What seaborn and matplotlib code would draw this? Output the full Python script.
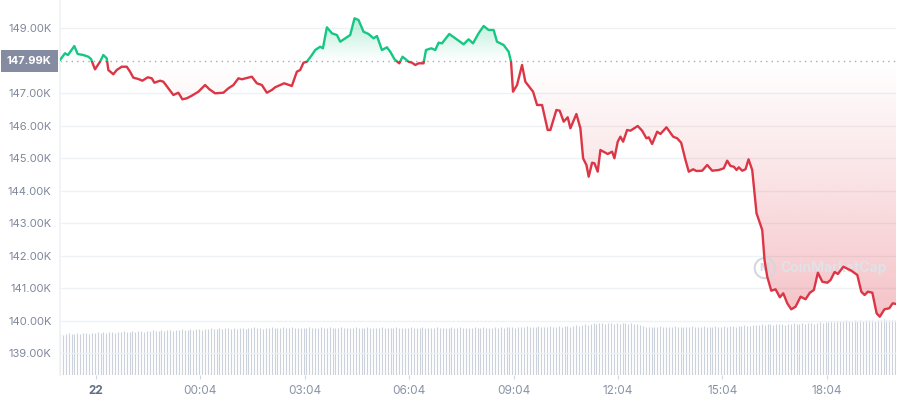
import matplotlib

matplotlib.use("Agg")
import matplotlib.pyplot as plt
import numpy as np
import pandas as pd
import seaborn as sns
from matplotlib.colors import to_rgb
from matplotlib.patches import Rectangle
from matplotlib.path import Path
from matplotlib.transforms import blended_transform_factory

# hours after the "22" tick, price in thousands of USD
hours = [
    -1.035, -0.892, -0.805, -0.624, -0.526, -0.365, -0.221, -0.144, -0.029, 0.115,
    0.210, 0.308, 0.354, 0.498, 0.595, 0.739, 0.883, 0.978, 1.073, 1.217,
    1.332, 1.487, 1.602, 1.677, 1.841, 1.936, 2.079, 2.223, 2.367, 2.482,
    2.609, 2.752, 2.942, 3.135, 3.259, 3.422, 3.661, 3.805, 3.949, 4.093,
    4.190, 4.478, 4.622, 4.766, 4.910, 5.053, 5.148, 5.292, 5.407, 5.628,
    5.772, 5.867, 5.962, 6.060, 6.204, 6.299, 6.442, 6.520, 6.635, 6.779,
    6.923, 7.018, 7.161, 7.305, 7.429, 7.544, 7.688, 7.832, 7.975, 8.073,
    8.217, 8.361, 8.456, 8.579, 8.714, 8.809, 8.982, 9.080, 9.175, 9.269,
    9.413, 9.482, 9.635, 9.750, 9.845, 9.942, 10.152, 10.325, 10.564, 10.707,
    10.834, 10.995, 11.139, 11.283, 11.427, 11.524, 11.714, 11.858, 11.927, 11.984,
    12.100, 12.243, 12.338, 12.482, 12.560, 12.675, 12.819, 12.980, 13.057, 13.230,
    13.325, 13.440, 13.555, 13.633, 13.805, 13.920, 13.998, 14.093, 14.159, 14.257,
    14.323, 14.418, 14.495, 14.639, 14.705, 14.832, 14.898, 14.993, 15.070, 15.148,
    15.263, 15.358, 15.568, 15.694, 15.818, 15.884, 15.982, 16.126, 16.221, 16.393,
    16.586, 16.701, 16.816, 16.940, 17.035, 17.161, 17.256, 17.420, 17.564, 17.708,
    17.897, 18.041, 18.139, 18.234, 18.329, 18.407, 18.473, 18.571, 18.666, 18.752,
    18.858, 18.982, 19.146, 19.212, 19.290, 19.405, 19.529, 19.652, 19.750, 19.865,
    19.980, 20.104, 20.248, 20.391, 20.515, 20.630, 20.745, 20.872, 21.016, 21.110,
    21.225, 21.320, 21.476, 21.571, 21.706, 21.878, 21.993, 22.088, 22.183, 22.310,
    22.433, 22.524, 22.659, 22.797, 22.895, 22.990,
]
price_k = [
    148.025, 148.231, 148.178, 148.455, 148.209, 148.178, 148.126, 148.055, 147.738, 147.972,
    148.178, 148.077, 147.717, 147.585, 147.717, 147.818, 147.818, 147.665, 147.480, 147.440,
    147.388, 147.492, 147.462, 147.326, 147.388, 147.357, 147.154, 146.948, 147.018, 146.815,
    146.846, 146.926, 147.049, 147.255, 147.123, 147.000, 147.018, 147.154, 147.255, 147.462,
    147.431, 147.511, 147.308, 147.255, 147.018, 147.102, 147.185, 147.255, 147.308, 147.225,
    147.665, 147.717, 147.942, 147.972, 148.178, 148.332, 148.434, 148.385, 149.031, 148.846,
    148.794, 148.588, 148.692, 148.794, 149.308, 149.255, 148.895, 148.825, 148.692, 148.763,
    148.332, 148.415, 148.280, 148.046, 147.923, 148.126, 147.972, 147.942, 147.871, 147.923,
    147.923, 148.332, 148.385, 148.332, 148.557, 148.538, 148.825, 148.692, 148.508, 148.662,
    148.538, 148.846, 149.071, 148.948, 148.948, 148.588, 148.486, 148.280, 147.972, 147.049,
    147.255, 147.871, 147.357, 147.154, 147.049, 146.640, 146.640, 145.871, 145.871, 146.486,
    146.465, 146.126, 146.262, 145.923, 146.363, 145.923, 145.000, 144.794, 144.434, 144.865,
    144.846, 144.588, 145.255, 145.172, 145.132, 145.203, 145.000, 145.511, 145.665, 145.511,
    145.871, 145.849, 145.994, 145.849, 145.615, 145.646, 145.440, 145.818, 145.748, 145.954,
    145.665, 145.615, 145.480, 144.948, 144.588, 144.662, 144.609, 144.618, 144.794, 144.618,
    144.640, 144.692, 144.926, 144.763, 144.742, 144.640, 144.723, 144.618, 144.662, 144.969,
    144.640, 143.308, 142.794, 141.871, 141.357, 140.926, 140.969, 140.723, 140.846, 140.538,
    140.354, 140.434, 140.742, 140.662, 140.865, 140.948, 141.480, 141.203, 141.172, 141.255,
    141.502, 141.440, 141.665, 141.615, 141.542, 141.409, 140.895, 140.794, 140.895, 140.865,
    140.231, 140.126, 140.354, 140.385, 140.538, 140.517,
]
base_k = 147.99

# one bar every 5 minutes, arbitrary units
volume = [
    4.1, 4.0, 4.1, 4.2, 4.1, 4.1, 4.2, 4.1, 4.2, 4.2, 4.1, 4.2,
    4.2, 4.3, 4.2, 4.3, 4.2, 4.3, 4.3, 4.2, 4.3, 4.3, 4.4, 4.3,
    4.3, 4.4, 4.3, 4.4, 4.4, 4.3, 4.4, 4.4, 4.5, 4.4, 4.4, 4.5,
    4.4, 4.5, 4.5, 4.4, 4.5, 4.5, 4.6, 4.5, 4.5, 4.6, 4.5, 4.6,
    4.6, 4.5, 4.6, 4.6, 4.7, 4.6, 4.6, 4.7, 4.6, 4.7, 4.7, 4.6,
    4.7, 4.6, 4.7, 4.7, 4.6, 4.7, 4.7, 4.8, 4.7, 4.7, 4.6, 4.7,
    4.7, 4.8, 4.7, 4.7, 4.7, 4.8, 4.7, 4.7, 4.8, 4.7, 4.7, 4.7,
    4.7, 4.7, 4.8, 4.7, 4.7, 4.7, 4.8, 4.7, 4.7, 4.8, 4.7, 4.7,
    4.7, 4.8, 4.7, 4.7, 4.7, 4.7, 4.8, 4.7, 4.7, 4.7, 4.8, 4.7,
    4.7, 4.7, 4.7, 4.8, 4.7, 4.7, 4.7, 4.7, 4.8, 4.7, 4.7, 4.7,
    4.7, 4.8, 4.7, 4.7, 4.7, 4.8, 4.7, 4.7, 4.7, 4.7, 4.8, 4.7,
    4.7, 4.7, 4.7, 4.8, 4.7, 4.7, 4.8, 4.7, 4.7, 4.7, 4.7, 4.8,
    4.7, 4.7, 4.8, 4.7, 4.7, 4.7, 4.8, 4.7, 4.8, 4.7, 4.8, 4.8,
    4.8, 4.7, 4.8, 4.8, 4.8, 4.9, 4.8, 4.8, 4.8, 4.9, 4.8, 4.8,
    4.8, 4.9, 4.8, 4.8, 4.9, 4.8, 4.9, 4.9, 4.8, 4.9, 5.0, 4.9,
    5.0, 5.1, 5.0, 5.1, 5.2, 5.1, 5.2, 5.2, 5.1, 5.2, 5.2, 5.1,
    5.2, 5.1, 5.2, 5.2, 5.1, 5.2, 5.1, 5.1, 5.0, 4.9, 4.8, 4.8,
    4.8, 4.8, 4.8, 4.9, 4.8, 4.8, 4.8, 4.8, 4.9, 4.8, 4.8, 4.8,
    4.8, 4.8, 4.9, 4.8, 4.8, 4.8, 4.9, 4.8, 4.8, 4.8, 4.9, 4.8,
    4.8, 4.9, 4.8, 4.9, 4.9, 4.8, 4.9, 4.9, 5.0, 4.9, 4.9, 5.0,
    5.0, 5.0, 5.1, 5.0, 5.1, 5.1, 5.0, 5.1, 5.1, 5.1, 5.0, 5.1,
    5.1, 5.2, 5.1, 5.1, 5.2, 5.1, 5.2, 5.2, 5.1, 5.2, 5.3, 5.2,
    5.3, 5.3, 5.4, 5.3, 5.4, 5.4, 5.4, 5.5, 5.4, 5.4, 5.5, 5.4,
    5.5, 5.4, 5.5, 5.5, 5.5, 5.4, 5.5, 5.5, 5.6, 5.5, 5.5, 5.5,
    5.5,
]

tick_hours = [0, 3, 6, 9, 12, 15, 18, 21]
tick_labels = ["22", "00:04", "03:04", "06:04", "09:04", "12:04", "15:04", "18:04"]
price_ticks = [139, 140, 141, 142, 143, 144, 145, 146, 147, 149]

GREEN = "#16c784"
RED = "#dc3545"
GRID = "#eff2f5"
TEXT = "#7d879b"


def gradient_fill(ax, coll, color, y0, y1, a0, a1):
    clip = Path.make_compound_path(*coll.get_paths())
    grad = np.zeros((256, 1, 4))
    grad[..., :3] = to_rgb(color)
    grad[:, 0, 3] = np.linspace(a0, a1, 256)
    im = ax.imshow(grad, extent=[hours[0], hours[-1], y0, y1], origin="lower",
                   aspect="auto", zorder=1, interpolation="bilinear")
    im.set_clip_path(clip, ax.transData)


def main() -> None:
    sns.set_theme(style="white")
    plt.rcParams["font.family"] = ["Inter", "DejaVu Sans"]

    df = pd.DataFrame({"hour": hours, "price": price_k})
    x0, x1 = hours[0], hours[-1]
    y_lo, y_hi = 138.332, 149.871

    fig = plt.figure(figsize=(8.98, 4.0), dpi=100)
    ax = fig.add_axes([60 / 898, 25 / 400, 836 / 898, 375 / 400])
    ax2 = ax.twinx()
    ax.set_zorder(ax2.get_zorder() + 1)
    ax.patch.set_visible(False)

    # volume bars
    vol_x = hours[0] + np.arange(len(volume)) * 5 / 60
    ax2.vlines(vol_x, 0, volume, color="#ccd2dc", lw=0.8)
    ax2.set_ylim(0, 37.5)
    ax2.set_xlim(x0, x1)
    ax2.set_yticks([])
    for s in ax2.spines.values():
        s.set_visible(False)

    # gradient areas between line and the open price
    p = np.array(price_k)
    up = ax.fill_between(hours, p, base_k, where=p >= base_k, interpolate=True,
                         facecolor="none", edgecolor="none")
    dn = ax.fill_between(hours, p, base_k, where=p <= base_k, interpolate=True,
                         facecolor="none", edgecolor="none")
    gradient_fill(ax, up, GREEN, base_k, 149.35, 0.0, 0.32)
    gradient_fill(ax, dn, RED, 140.1, base_k, 0.3, 0.0)

    # price line: green above, red below the open
    for color, rect in [(GREEN, (x0, base_k, x1 - x0, 5)),
                        (RED, (x0, base_k - 15, x1 - x0, 15))]:
        sns.lineplot(data=df, x="hour", y="price", color=color, lw=1.7, ax=ax, zorder=3)
        line = ax.lines[-1]
        line.set_clip_path(Rectangle(rect[:2], rect[2], rect[3], transform=ax.transData))

    ax.axhline(base_k, color="#a3abbd", lw=1.0, ls=(0, (1, 3)), zorder=2)

    ax.set_xlim(x0, x1)
    ax.set_ylim(y_lo, y_hi)
    ax.set_xlabel("")
    ax.set_ylabel("")
    ax.set_yticks(price_ticks, [f"{v:.2f}K" for v in price_ticks])
    ax.set_xticks(tick_hours, tick_labels)
    ax.grid(axis="y", color=GRID, lw=1)
    ax.grid(axis="x", visible=False)
    ax.tick_params(axis="y", length=0, pad=6, labelsize=8, labelcolor=TEXT)
    ax.tick_params(axis="x", length=3, width=0.8, color="#cfd6e4", pad=4,
                   labelsize=8.5, labelcolor="#8a93a6", bottom=True)
    ax.get_xticklabels()[0].set_color("#616e85")
    ax.get_xticklabels()[0].set_fontweight("bold")
    for name, s in ax.spines.items():
        s.set_visible(name == "left")
    ax.spines["left"].set_color(GRID)

    trans = blended_transform_factory(ax.transAxes, ax.transData)
    ax.annotate("147.99K", xy=(0, base_k), xycoords=trans, xytext=(-6, 0),
                textcoords="offset points", ha="right", va="center", fontsize=8,
                fontweight="bold", color="white",
                bbox=dict(boxstyle="square,pad=0.55", fc="#858ca2", ec="none"))

    # watermark
    ax.scatter([0.843], [0.285], s=210, marker="o", facecolor="none",
               edgecolor="#d3d7de", lw=1.5, transform=ax.transAxes, zorder=2)
    ax.text(0.843, 0.285, "M", transform=ax.transAxes, ha="center", va="center",
            fontsize=8, color="#d3d7de", fontweight="bold", zorder=2)
    ax.text(0.862, 0.285, "CoinMarketCap", transform=ax.transAxes, ha="left",
            va="center", fontsize=10, color="#dfe2e8", fontweight="bold", zorder=2)

    fig.savefig("out.png", dpi=100)


if __name__ == "__main__":
    main()
